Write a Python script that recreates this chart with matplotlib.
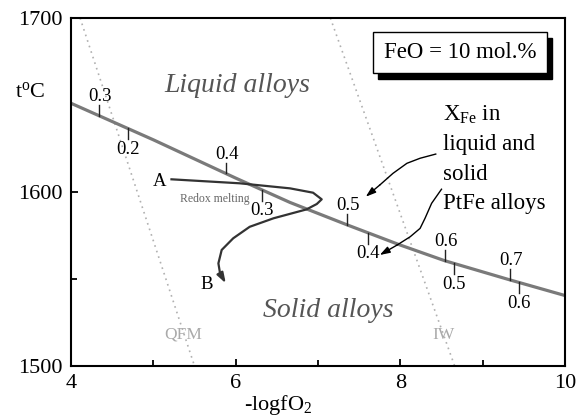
import numpy as np
import matplotlib
matplotlib.use('Agg')
import matplotlib.pyplot as plt
from matplotlib.patches import Rectangle

plt.rcParams['font.family'] = ['Liberation Serif', 'DejaVu Serif']
plt.rcParams['mathtext.fontset'] = 'custom'
plt.rcParams['mathtext.rm'] = 'Liberation Serif'
plt.rcParams['mathtext.it'] = 'Liberation Serif:italic'

# liquidus/solidus curve of PtFe alloys
curve_x = [4.0, 5.0, 6.0, 6.66, 7.36, 8.0, 8.54, 9.33, 10.0]
curve_t = [1651, 1630, 1608, 1594, 1581, 1569.5, 1560.5, 1549.5, 1540.5]

# X_Fe marks along the curve: liquid (above) and solid (below)
liq_x = [4.34, 5.88, 7.35, 8.54, 9.33]
liq_lab = ['0.3', '0.4', '0.5', '0.6', '0.7']
sol_x = [4.69, 6.32, 7.61, 8.65, 9.44]
sol_lab = ['0.2', '0.3', '0.4', '0.5', '0.6']

# redox melting path A -> B
path_x = [5.22, 6.05, 6.66, 6.94, 7.045, 6.985, 6.86, 6.46, 6.17, 5.97, 5.83, 5.79, 5.81, 5.88]
path_t = [1607.3, 1605.0, 1602.1, 1599.6, 1595.8, 1593.1, 1590.0, 1584.9, 1580.0, 1573.4,
          1566.7, 1559.0, 1553.3, 1547.5]

# buffers (end points at 1700 and 1500)
qfm_x = [4.11, 5.50]
iw_x = [7.15, 8.66]
buf_t = [1700, 1500]

# pointer arrows from the X_Fe note
arr1_x = [8.43, 8.24, 8.08, 7.91, 7.75, 7.58]
arr1_t = [1621.8, 1619.4, 1616.5, 1610.7, 1604.0, 1597.3]
arr2_x = [8.50, 8.38, 8.30, 8.24, 8.12, 7.96, 7.75]
arr2_t = [1601.6, 1593.5, 1584.9, 1579.1, 1574.3, 1569.5, 1563.8]

note_lines = [r'X$_{\rm Fe}$ in', 'liquid and', 'solid', 'PtFe alloys']
note_t = [1641, 1624, 1607, 1590]

fig = plt.figure(figsize=(5.87, 4.19), dpi=100)
ax = fig.add_axes([0.121, 0.1265, 0.8415, 0.8305])

ax.plot(qfm_x, buf_t, color='#b0b0b0', lw=1.2, ls=(0, (1, 2.5)))
ax.plot(iw_x, buf_t, color='#b0b0b0', lw=1.2, ls=(0, (1, 2.5)))

ax.plot(curve_x, curve_t, color='#7a7a7a', lw=2.3, solid_capstyle='butt')

tick_len = 6.3
for x, lab in zip(liq_x, liq_lab):
    t = np.interp(x, curve_x, curve_t)
    ax.plot([x, x], [t, t + tick_len], color='#222222', lw=1)
    ax.annotate(lab, (x, t + tick_len), xytext=(1, 0), textcoords='offset points',
                ha='center', va='bottom', fontsize=13.5)
for x, lab in zip(sol_x, sol_lab):
    t = np.interp(x, curve_x, curve_t)
    ax.plot([x, x], [t, t - tick_len], color='#222222', lw=1)
    ax.annotate(lab, (x, t - tick_len), xytext=(0, -1), textcoords='offset points',
                ha='center', va='top', fontsize=13.5)

ax.plot(path_x[:-1], path_t[:-1], color='#333333', lw=1.6)
ax.annotate('', xy=(path_x[-1], path_t[-1]), xytext=(path_x[-2], path_t[-2]),
            arrowprops=dict(arrowstyle='-|>,head_length=0.6,head_width=0.2',
                            color='#333333', lw=1.6, shrinkA=0, shrinkB=0))

for ax_, at_ in [(arr1_x, arr1_t), (arr2_x, arr2_t)]:
    ax.plot(ax_[:-1], at_[:-1], color='black', lw=1)
    ax.annotate('', xy=(ax_[-1], at_[-1]), xytext=(ax_[-2], at_[-2]),
                arrowprops=dict(arrowstyle='-|>,head_length=0.6,head_width=0.2',
                                color='black', lw=1, shrinkA=0, shrinkB=0))

ax.text(6.02, 1661, 'Liquid alloys', fontsize=20, style='italic', color='#555555',
        ha='center', va='center')
ax.text(7.12, 1532, 'Solid alloys', fontsize=20, style='italic', color='#555555',
        ha='center', va='center')
ax.text(5.08, 1606, 'A', fontsize=13.5, ha='center', va='center')
ax.text(5.65, 1547, 'B', fontsize=13.5, ha='center', va='center')
ax.text(5.75, 1596, 'Redox melting', fontsize=8.5, color='#666666', ha='center', va='center')
ax.text(5.36, 1518, 'QFM', fontsize=12.5, color='#aaaaaa', ha='center', va='center')
ax.text(8.52, 1518, 'IW', fontsize=12.5, color='#aaaaaa', ha='center', va='center')

for line, t in zip(note_lines, note_t):
    ax.text(8.52, t, line, fontsize=16.5, ha='left', va='baseline')

# FeO box with shadow
ax.add_patch(Rectangle((0.621, 0.825), 0.353, 0.118, transform=ax.transAxes,
                       facecolor='black', edgecolor='black', zorder=5))
ax.add_patch(Rectangle((0.611, 0.842), 0.353, 0.118, transform=ax.transAxes,
                       facecolor='white', edgecolor='black', lw=1, zorder=6))
ax.text(0.7875, 0.901, 'FeO = 10 mol.%', transform=ax.transAxes, fontsize=16.5,
        ha='center', va='center', zorder=7)

ax.set_xlim(4, 10)
ax.set_ylim(1500, 1700)
ax.set_xticks([4, 6, 8, 10])
ax.set_xticks([5, 7, 9], minor=True)
ax.set_yticks([1500, 1600, 1700])
ax.set_yticks([1550], minor=True)
ax.tick_params(which='both', direction='in', labelsize=16, width=1.3)
ax.tick_params(which='major', length=5)
ax.tick_params(which='minor', length=4)
ax.tick_params(axis='x', pad=6)
ax.tick_params(axis='y', pad=6)
for s in ax.spines.values():
    s.set_linewidth(1.5)

ax.text(0.42, -0.127, r'-logfO$_2$', transform=ax.transAxes, fontsize=16,
        ha='center', va='baseline')
ax.text(-0.083, 0.787, r't$^{\rm o}$C', transform=ax.transAxes, fontsize=16,
        ha='center', va='center')

fig.savefig('out.png', dpi=100)
